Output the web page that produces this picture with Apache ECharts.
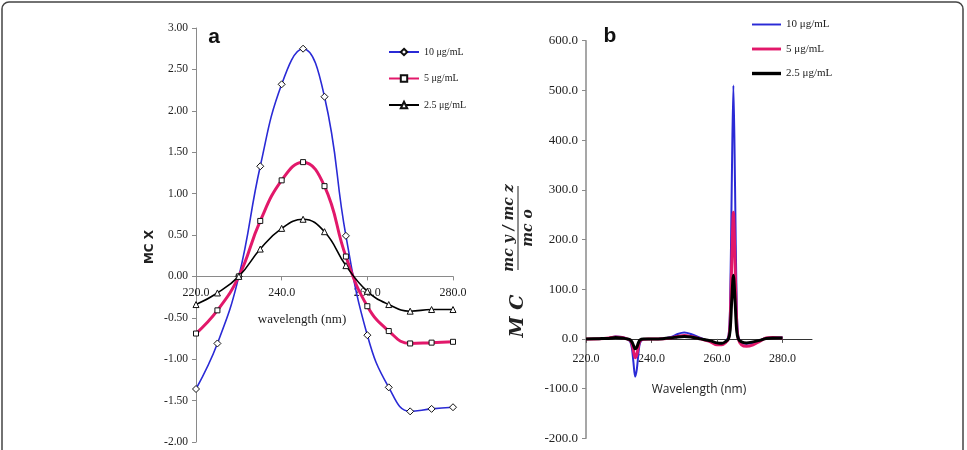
<!DOCTYPE html>
<html>
<head>
<meta charset="utf-8">
<title>wavelength</title>
<script src="https://cdn.jsdelivr.net/npm/echarts@6/dist/echarts.min.js"></script>
<style>
html,body{margin:0;padding:0;background:#fff;}
#content{width:967px;height:450px;}
</style>
</head>
<body>
<div id="content"></div>
<script>
/* data of panel a */
var wavelengthA = [220, 225, 230, 235, 240, 245, 250, 255, 260, 265, 270, 275, 280];
var conc10A = [-1.36, -0.81, 0.00, 1.33, 2.32, 2.75, 2.17, 0.49, -0.71, -1.34, -1.63, -1.60, -1.58];
var conc5A = [-0.69, -0.41, 0.00, 0.67, 1.16, 1.38, 1.09, 0.24, -0.36, -0.66, -0.81, -0.80, -0.79];
var conc25A = [-0.34, -0.20, 0.00, 0.33, 0.58, 0.69, 0.54, 0.13, -0.18, -0.34, -0.42, -0.40, -0.40];
var ticksA = ['220.0', '240.0', '260.0', '280.0'];

/* data of panel b */
var wavelengthB = [220, 224, 227, 229, 231, 232.5, 233.5, 234, 234.5, 235, 235.5, 236, 236.5, 237.5, 239,
	242, 246, 248, 250, 252, 255, 258, 260, 261.5, 262.5, 263.5, 264, 264.5, 265, 265.5,
	266, 266.5, 267.5, 269, 271, 273, 275, 277, 280];
var conc10B = [0, 0.5, 2, 5, 4, 0, -6, -18, -48, -76, -62, -30, -8, -1, 0,
	0, 4, 10, 13, 10, 2, -6, -11, -11, -6, 5, 69, 309, 510, 309,
	69, 5, -8, -10, -8, -3, 2, 3, 3];
var conc5B = [0, 0.5, 2, 4, 3, 0, -3, -9, -24, -38, -32, -15, -4, -1, 0,
	0, 2, 5, 7, 5, 0, -6, -12, -12, -8, 0, 33, 155, 255, 155,
	33, 0, -12, -15, -12, -5, 2, 3, 2];
var conc25B = [0, 0.5, 1, 3, 2, 0, -2, -6, -13, -20, -17, -8, -2, 0, 0,
	0, 2, 4, 5, 4, 0, -4, -8, -9, -6, 0, 17, 78, 128, 78,
	17, 0, -6, -8, -6, -3, 1, 2, 2];
var ticksB = ['220.0', '240.0', '260.0', '280.0'];

var names = ['10 μg/mL', '5 μg/mL', '2.5 μg/mL'];
var colors = ['#2a2ad6', '#e2186a', '#000000'];

window.onload = function(){
	function pairs(xs, ys){
		return xs.map(function(x, i){ return [x, ys[i]]; });
	}
	function tickLabel(list){
		return function(v){
			var s = v.toFixed(1);
			return list.indexOf(s) >= 0 ? s : '';
		}
	}

	var serif = '"Liberation Serif", "Times New Roman", serif';
	var myChart = echarts.init(document.getElementById('content'));

	/* x axes sit at y = 0, moved up from the grid bottom */
	var zeroA = -414 * 2 / 5;
	var zeroB = -397.6 * 200 / 800;

	var option = {
		backgroundColor: '#fff',
		animation: false,
		color: colors,
		legend: [
			{
				left: 383, top: 42, orient: 'vertical',
				itemWidth: 30, itemHeight: 8, itemGap: 16.5,
				textStyle: {fontFamily: serif, fontSize: 10, color: '#222'},
				data: names
			},
			{
				left: 747, top: 14, orient: 'vertical',
				itemWidth: 29, itemHeight: 12, itemGap: 13.5,
				textStyle: {fontFamily: serif, fontSize: 11, color: '#222'},
				data: [
					{name: names[0], icon: 'path://M0,0L30,0L30,2L0,2Z', itemStyle: {color: colors[0], borderWidth: 0}},
					{name: names[1], icon: 'path://M0,0L30,0L30,3L0,3Z', itemStyle: {color: colors[1], borderWidth: 0}},
					{name: names[2], icon: 'path://M0,0L30,0L30,3.5L0,3.5Z', itemStyle: {color: colors[2], borderWidth: 0}}
				]
			}
		],
		grid: [
			{left: 196, top: 28, width: 257, height: 414},
			{left: 586, top: 40.7, width: 226, height: 397.6}
		],
		xAxis: [
			{
				type: 'value', gridIndex: 0, min: 220, max: 280, interval: 20, offset: zeroA,
				axisLine: {onZero: false, lineStyle: {color: '#8a8a8a', width: 1}},
				axisTick: {show: true, length: 4, lineStyle: {color: '#8a8a8a'}},
				axisLabel: {fontFamily: serif, fontSize: 12, color: '#222', margin: 10, formatter: tickLabel(ticksA)},
				splitLine: {show: false}
			},
			{
				type: 'value', gridIndex: 1, min: 220, max: 289, interval: 20, offset: zeroB,
				axisLine: {onZero: false, lineStyle: {color: '#333', width: 1}},
				axisTick: {show: true, length: 4, lineStyle: {color: '#555'}, customValues: [220, 240, 260, 280]},
				axisLabel: {fontFamily: serif, fontSize: 12, color: '#222', margin: 14, formatter: tickLabel(ticksB)},
				splitLine: {show: false}
			}
		],
		yAxis: [
			{
				type: 'value', gridIndex: 0, min: -2, max: 3, interval: 0.5,
				axisLine: {show: true, onZero: false, lineStyle: {color: '#8a8a8a'}},
				axisTick: {show: true, length: 4, lineStyle: {color: '#8a8a8a'}},
				axisLabel: {fontFamily: serif, fontSize: 11.5, color: '#222', margin: 8,
					formatter: function(v){ return v.toFixed(2); }},
				splitLine: {show: false}
			},
			{
				type: 'value', gridIndex: 1, min: -200, max: 600, interval: 100,
				axisLine: {show: true, onZero: false, lineStyle: {color: '#8a8a8a', width: 1.5}},
				axisTick: {show: true, length: 4, lineStyle: {color: '#8a8a8a'}},
				axisLabel: {fontFamily: serif, fontSize: 13, color: '#222', margin: 8,
					formatter: function(v){ return v.toFixed(1); }},
				splitLine: {show: false}
			}
		],
		series: [
			/* panel a */
			{
				name: names[0], type: 'line', xAxisIndex: 0, yAxisIndex: 0, smooth: 0.45,
				data: pairs(wavelengthA, conc10A),
				symbol: 'diamond', symbolSize: 7,
				lineStyle: {color: colors[0], width: 1.6},
				itemStyle: {color: '#fff', borderColor: '#111', borderWidth: 1}
			},
			{
				name: names[1], type: 'line', xAxisIndex: 0, yAxisIndex: 0, smooth: 0.45,
				data: pairs(wavelengthA, conc5A),
				symbol: 'rect', symbolSize: 5,
				lineStyle: {color: colors[1], width: 3},
				itemStyle: {color: '#fff', borderColor: '#111', borderWidth: 1}
			},
			{
				name: names[2], type: 'line', xAxisIndex: 0, yAxisIndex: 0, smooth: 0.45,
				data: pairs(wavelengthA, conc25A),
				symbol: 'triangle', symbolSize: 6,
				lineStyle: {color: colors[2], width: 1.6},
				itemStyle: {color: '#fff', borderColor: '#111', borderWidth: 1}
			},
			/* panel b */
			{
				name: names[0], type: 'line', xAxisIndex: 1, yAxisIndex: 1, smooth: 0.3,
				data: pairs(wavelengthB, conc10B), symbol: 'none',
				lineStyle: {color: colors[0], width: 2}
			},
			{
				name: names[1], type: 'line', xAxisIndex: 1, yAxisIndex: 1, smooth: 0.3,
				data: pairs(wavelengthB, conc5B), symbol: 'none',
				lineStyle: {color: colors[1], width: 3}
			},
			{
				name: names[2], type: 'line', xAxisIndex: 1, yAxisIndex: 1, smooth: 0.3,
				data: pairs(wavelengthB, conc25B), symbol: 'none',
				lineStyle: {color: colors[2], width: 3}
			}
		],
		graphic: [
			/* frame */
			{type: 'rect', shape: {x: 2, y: 2, width: 961, height: 470, r: 7},
				style: {fill: 'none', stroke: '#444', lineWidth: 1.5}, silent: true},
			{type: 'text', x: 214, y: 37, style: {text: 'a', font: 'bold 21px "Liberation Sans", Arial, sans-serif',
				fill: '#111', align: 'center', verticalAlign: 'middle'}},
			{type: 'text', x: 610, y: 36, style: {text: 'b', font: 'bold 21px "Liberation Sans", Arial, sans-serif',
				fill: '#111', align: 'center', verticalAlign: 'middle'}},
			/* axis titles */
			{type: 'text', x: 150, y: 247, rotation: Math.PI / 2, style: {text: 'MC X',
				font: 'bold 12px "DejaVu Sans", sans-serif', fill: '#222', align: 'center', verticalAlign: 'middle'}},
			{type: 'text', x: 302, y: 320, style: {text: 'wavelength (nm)',
				font: '13px ' + serif, fill: '#222', align: 'center', verticalAlign: 'middle'}},
			{type: 'text', x: 699, y: 390, style: {text: 'Wavelength (nm)',
				font: '12px "Open Sans", sans-serif', fill: '#222', align: 'center', verticalAlign: 'middle'}},
			{
				type: 'group', x: 518, y: 228, rotation: Math.PI / 2,
				children: [
					{type: 'line', shape: {x1: -42, y1: 0, x2: 42, y2: 0}, style: {stroke: '#222', lineWidth: 1}},
					{type: 'text', x: 0, y: -2, style: {text: 'mc y / mc z', font: 'italic bold 14px "DejaVu Serif", serif',
						fill: '#222', align: 'center', verticalAlign: 'bottom'}},
					{type: 'text', x: 0, y: 3, style: {text: 'mc o', font: 'italic bold 14px "DejaVu Serif", serif',
						fill: '#222', align: 'center', verticalAlign: 'top'}},
					{type: 'text', x: -88, y: 0, style: {text: 'M C', font: 'italic bold 19px "DejaVu Serif", serif',
						fill: '#222', align: 'center', verticalAlign: 'middle'}}
				]
			}
		]
	};
	myChart.setOption(option);
}
</script>
</body>
</html>
